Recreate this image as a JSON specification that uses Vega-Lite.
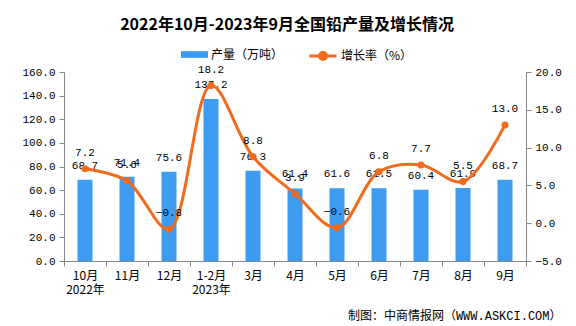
{
  "$schema": "https://vega.github.io/schema/vega-lite/v6.json",
  "width": 462,
  "height": 189,
  "autosize": {"type": "none"},
  "padding": {"left": 64, "top": 72, "right": 50, "bottom": 65},
  "background": "white",
  "title": {
    "text": "2022年10月-2023年9月全国铅产量及增长情况",
    "font": "Noto Sans CJK SC",
    "fontSize": 16,
    "fontWeight": "bold",
    "color": "#000",
    "anchor": "middle",
    "frame": "group",
    "dx": -8,
    "offset": 8
  },
  "config": {
    "view": {"stroke": null},
    "font": "Liberation Mono, Noto Sans CJK SC",
    "axis": {"labelOverlap": false}
  },
  "data": {
    "values": [
      {"m": "10月", "v": 68.7, "g": 7.2},
      {"m": "11月", "v": 71.4, "g": 5.6},
      {"m": "12月", "v": 75.6, "g": -0.8},
      {"m": "1-2月", "v": 137.2, "g": 18.2},
      {"m": "3月", "v": 76.3, "g": 8.8},
      {"m": "4月", "v": 61.4, "g": 3.9},
      {"m": "5月", "v": 61.6, "g": -0.6},
      {"m": "6月", "v": 61.5, "g": 6.8},
      {"m": "7月", "v": 60.4, "g": 7.7},
      {"m": "8月", "v": 61.9, "g": 5.5},
      {"m": "9月", "v": 68.7, "g": 13.0}
    ]
  },
  "encoding": {
    "x": {
      "field": "m",
      "type": "nominal",
      "sort": null,
      "scale": {"paddingInner": 0, "paddingOuter": 0},
      "axis": {
        "labelAngle": 0,
        "labelFont": "Noto Sans CJK SC",
        "labelFontSize": 12,
        "labelColor": "#000",
        "labelPadding": 4,
        "labelLineHeight": 14,
        "labelOverlap": false,
        "labelExpr": "datum.value == '10月' ? ['10月', '2022年'] : datum.value == '1-2月' ? ['1-2月', '2023年'] : datum.value",
        "tickBand": "extent",
        "tickSize": 5,
        "tickColor": "#888",
        "domainColor": "#888",
        "title": "制图：中商情报网（WWW.ASKCI.COM）",
        "titleFont": "Liberation Mono, Noto Sans CJK SC",
        "titleFontSize": 12,
        "titleFontWeight": "normal",
        "titleColor": "#000",
        "titleAnchor": "end",
        "titleAlign": "right",
        "titleBaseline": "middle",
        "titleX": 497,
        "titleY": 54
      }
    }
  },
  "layer": [
    {
      "encoding": {
        "y": {
          "field": "v",
          "type": "quantitative",
          "scale": {"domain": [0, 160], "nice": false},
          "axis": {
            "orient": "left",
            "values": [0, 20, 40, 60, 80, 100, 120, 140, 160],
            "format": ".1f",
            "grid": false,
            "title": null,
            "labelFontSize": 11,
            "labelColor": "#000",
            "labelOverlap": false,
            "labelFlush": false,
            "tickSize": 5,
            "tickColor": "#888",
            "domainColor": "#888",
            "labelPadding": 4
          }
        }
      },
      "layer": [
        {
          "mark": {"type": "bar", "width": 15},
          "encoding": {
            "color": {
              "datum": "产量（万吨）",
              "type": "nominal",
              "scale": {"range": ["#3D9BF0"]},
              "legend": {
                "orient": "none",
                "legendX": 117,
                "legendY": -31,
                "title": null,
                "symbolType": "M-1,-0.25H1V0.25H-1Z",
                "symbolSize": 729,
                "symbolStrokeWidth": 0,
                "labelFont": "Noto Sans CJK SC",
                "labelFontSize": 12,
                "labelColor": "#000",
                "labelOffset": 3
              }
            }
          }
        },
        {
          "mark": {"type": "text", "dy": -14, "fontSize": 11, "color": "#000"},
          "encoding": {
            "text": {"field": "v", "type": "quantitative", "format": ".1f"}
          }
        }
      ]
    },
    {
      "encoding": {
        "y": {
          "field": "g",
          "type": "quantitative",
          "scale": {"domain": [-5, 20], "nice": false},
          "axis": {
            "orient": "right",
            "values": [-5, 0, 5, 10, 15, 20],
            "format": ".1f",
            "grid": false,
            "title": null,
            "labelFontSize": 11,
            "labelColor": "#000",
            "labelOverlap": false,
            "labelFlush": false,
            "tickSize": 5,
            "tickColor": "#888",
            "domainColor": "#888",
            "labelPadding": 4
          }
        }
      },
      "layer": [
        {
          "mark": {"type": "line", "interpolate": "catmull-rom", "strokeWidth": 3},
          "encoding": {
            "stroke": {
              "datum": "增长率（%）",
              "type": "nominal",
              "scale": {"range": ["#F26A1B"]},
              "legend": {
                "orient": "none",
                "legendX": 244,
                "legendY": -31,
                "title": null,
                "symbolType": "M-1,0H1M0.26,0A0.26,0.26 0 1,1 -0.26,0A0.26,0.26 0 1,1 0.26,0",
                "symbolSize": 729,
                "symbolStrokeWidth": 3,
                "symbolFillColor": "#F26A1B",
                "labelFont": "Noto Sans CJK SC",
                "labelFontSize": 12,
                "labelColor": "#000",
                "labelOffset": 3
              }
            }
          }
        },
        {
          "mark": {"type": "point", "filled": true, "size": 50, "color": "#F26A1B", "opacity": 1}
        },
        {
          "mark": {"type": "text", "dy": -16, "fontSize": 11, "color": "#000"},
          "encoding": {
            "text": {"field": "g", "type": "quantitative", "format": ".1f"}
          }
        }
      ]
    }
  ],
  "resolve": {"scale": {"y": "independent", "color": "independent"}}
}
